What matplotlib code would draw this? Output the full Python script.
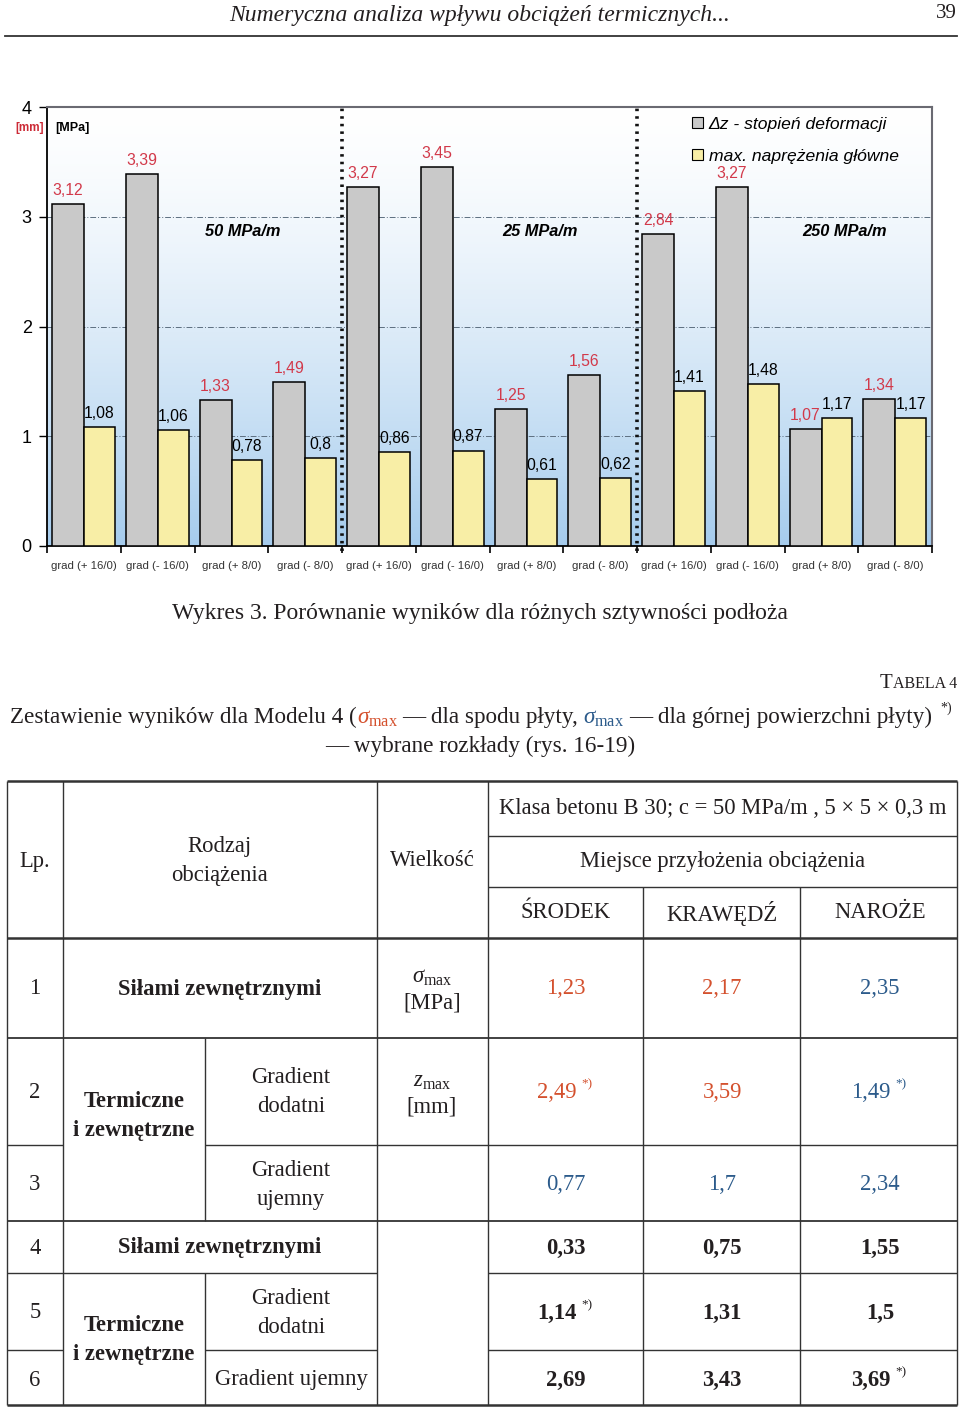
import numpy as np
import matplotlib
matplotlib.use('Agg')
import matplotlib.pyplot as plt
from matplotlib.patches import Patch
from matplotlib.offsetbox import TextArea, HPacker, AnnotationBbox

plt.rcParams['mathtext.fontset'] = 'custom'
plt.rcParams['mathtext.rm'] = 'Liberation Serif'
plt.rcParams['mathtext.it'] = 'Liberation Serif:italic'
plt.rcParams['mathtext.bf'] = 'Liberation Serif:bold'

# --- chart data ---
categories = ['grad (+ 16/0)', 'grad (- 16/0)', 'grad (+ 8/0)', 'grad (- 8/0)'] * 3
deformation = [3.12, 3.39, 1.33, 1.49, 3.27, 3.45, 1.25, 1.56, 2.84, 3.27, 1.07, 1.34]
stress = [1.08, 1.06, 0.78, 0.8, 0.86, 0.87, 0.61, 0.62, 1.41, 1.48, 1.17, 1.17]
stiffness = ['50 MPa/m', '25 MPa/m', '250 MPa/m']
series_names = ['Δz - stopień deformacji', 'max. naprężenia główne']
yticks = [0, 1, 2, 3, 4]

# --- table data ---
loc_heads = ['ŚRODEK', 'KRAWĘDŹ', 'NAROŻE']
lp = ['1', '2', '3', '4', '5', '6']
values = [['1,23', '2,17', '2,35'],
          ['2,49', '3,59', '1,49'],
          ['0,77', '1,7', '2,34'],
          ['0,33', '0,75', '1,55'],
          ['1,14', '1,31', '1,5'],
          ['2,69', '3,43', '3,69']]
footnotes = [(1, 0), (1, 2), (4, 0), (5, 2)]

RED = '#d4512e'
BLUE = '#2c5b8b'
INK = '#231f20'
SERIF = 'Liberation Serif'
SANS = 'Liberation Sans'
FS = 16.3

W, H = 960, 1409
fig = plt.figure(figsize=(W / 100, H / 100), dpi=100)

# page layer in pixel coordinates
page = fig.add_axes([0, 0, 1, 1])
page.set_xlim(0, W)
page.set_ylim(H, 0)
page.axis('off')

# running header
page.text(480, 16, 'Numeryczna analiza wpływu obciążeń termicznych...', family=SERIF,
          style='italic', fontsize=17, ha='center', va='center', color=INK)
page.text(957, 13, '39', family=SERIF, fontsize=15, ha='right', va='center', color=INK)
page.plot([5, 957], [36, 36], color='#333333', lw=1.3)

# ---- bar chart ----
ax = fig.add_axes([47 / W, 1 - 546 / H, 885 / W, 439 / H])
x = np.arange(len(categories))
ax.set_xlim(-0.5, len(categories) - 0.5)
ax.set_ylim(0, 4)

g = np.linspace(0, 1, 256) ** 1.4
top_c = np.array([1.0, 1.0, 1.0])
bot_c = np.array([0.65, 0.80, 0.93])
img = top_c[None, :] * (1 - g[:, None]) + bot_c[None, :] * g[:, None]
ax.imshow(img[:, None, :], extent=[-0.5, len(categories) - 0.5, 0, 4],
          aspect='auto', origin='upper', zorder=0)

for yv in yticks[1:-1]:
    ax.axhline(yv, color='#5d6f80', ls=(0, (6, 2, 1, 2)), lw=0.7, zorder=1)

ax.bar(x - 0.432, deformation, width=0.434, align='edge', color='#c9c9c9',
       edgecolor='black', lw=1.1, zorder=3)
ax.bar(x + 0.002, stress, width=0.42, align='edge', color='#f8eea6',
       edgecolor='black', lw=1.1, zorder=3)

for i in range(len(categories)):
    ax.annotate(str(deformation[i]).replace('.', ','), (x[i] - 0.215, deformation[i]),
                xytext=(0, 6.5), textcoords='offset points', ha='center', va='baseline',
                color='#d2394a', fontsize=11.3, family=SANS, zorder=5)
    ax.annotate(str(stress[i]).replace('.', ','), (x[i] + 0.21, stress[i]),
                xytext=(0, 6.5), textcoords='offset points', ha='center', va='baseline',
                color='black', fontsize=11.3, family=SANS, zorder=5)

for sep in [3.5, 7.5]:
    ax.axvline(sep, ymin=-0.012, ymax=1, color='#111111', ls=(0, (0.7, 1.4)), lw=2.6,
               zorder=4, clip_on=False)

for xs, name in zip([2.16, 6.18, 10.32], stiffness):
    ax.text(xs, 2.87, name, ha='center', va='center', fontsize=11.8, family=SANS,
            weight='bold', style='italic', zorder=5)

ax.set_xticks(x)
ax.set_xticklabels(categories, fontsize=8.2, family=SANS, color='#333333')
ax.set_xticks(np.arange(-0.5, len(categories), 1), minor=True)
ax.tick_params(axis='x', which='major', length=0, pad=11)
ax.tick_params(axis='x', which='minor', length=5, width=1.2, direction='out')
ax.set_yticks(yticks)
ax.set_yticklabels([str(t) for t in yticks], fontsize=13, family=SANS)
ax.tick_params(axis='y', length=6, width=1.0, direction='out', pad=5)
for s in ['top', 'right']:
    ax.spines[s].set_color('#6a6a72')
    ax.spines[s].set_linewidth(1.5)
for s in ['left', 'bottom']:
    ax.spines[s].set_color('black')
    ax.spines[s].set_linewidth(1.3)

handles = [Patch(facecolor='#c9c9c9', edgecolor='black', lw=0.8),
           Patch(facecolor='#f8eea6', edgecolor='black', lw=0.8)]
ax.legend(handles, series_names, loc='upper left', bbox_to_anchor=(0.729, 0.977),
          frameon=False, prop={'family': SANS, 'style': 'italic', 'size': 12.6},
          handlelength=0.6, handleheight=0.6, handletextpad=0.35, labelspacing=0.95,
          borderaxespad=0, borderpad=0)

# unit labels drawn on the chart layer so they sit above the plot background
ax.text(30, 128, '[mm]', color='#cc2a36', fontsize=8.5, weight='bold', family=SANS,
        ha='center', va='center', transform=page.transData, clip_on=False, zorder=6)
ax.text(72, 128, '[MPa]', color='black', fontsize=9, weight='bold', family=SANS,
        ha='center', va='center', transform=page.transData, clip_on=False, zorder=6)

# caption
page.text(480, 613, 'Wykres 3. Porównanie wyników dla różnych sztywności podłoża',
          family=SERIF, fontsize=17, ha='center', va='center', color=INK)

# table title
tab = HPacker(children=[TextArea('T', textprops=dict(family=SERIF, fontsize=15, color=INK)),
                        TextArea('ABELA 4', textprops=dict(family=SERIF, fontsize=11.5, color=INK))],
              align='baseline', pad=0, sep=0.5)
page.add_artist(AnnotationBbox(tab, (957, 684), xycoords='data', box_alignment=(1, 0.5),
                               frameon=False, pad=0))

TFS = 16.7
tp = dict(family=SERIF, fontsize=TFS, color=INK)
sig_red = dict(family=SERIF, fontsize=TFS, color=RED)
sig_blue = dict(family=SERIF, fontsize=TFS, color=BLUE)


def spacer(w):
    return TextArea(' ', textprops=dict(family=SERIF, fontsize=w))


title_parts = [TextArea('Zestawienie wyników dla Modelu 4 (', textprops=tp),
               TextArea(r'$\sigma_{\mathrm{max}}$', textprops=sig_red),
               spacer(14),
               TextArea('— dla spodu płyty,', textprops=tp),
               spacer(14),
               TextArea(r'$\sigma_{\mathrm{max}}$', textprops=sig_blue),
               spacer(14),
               TextArea('— dla górnej powierzchni płyty)', textprops=tp)]
line1 = HPacker(children=title_parts, align='baseline', pad=0, sep=0)
page.add_artist(AnnotationBbox(line1, (10, 718), xycoords='data', box_alignment=(0, 0.5),
                               frameon=False, pad=0))
page.text(940, 708, '*)', family=SERIF, fontsize=10, ha='left', va='center', color=INK)
page.text(480, 746, '— wybrane rozkłady (rys. 16-19)', family=SERIF, fontsize=TFS,
          ha='center', va='center', color=INK)

# ---- table grid ----
hlines = [(781, 7, 957, 1.8), (836, 488, 957, 1.0), (887, 488, 957, 1.0), (938, 7, 957, 1.8),
          (1038, 7, 957, 1.3), (1145, 7, 63, 1.0), (1145, 205, 957, 1.0), (1221, 7, 957, 1.3),
          (1273, 7, 377, 1.0), (1273, 488, 957, 1.0), (1350, 7, 63, 1.0), (1350, 205, 377, 1.0),
          (1350, 488, 957, 1.0), (1405, 7, 957, 1.8)]
vlines = [(7, 781, 1405), (63, 781, 1405), (205, 1038, 1221), (205, 1273, 1405),
          (377, 781, 1405), (488, 781, 1405), (643, 887, 1405), (800, 887, 1405),
          (957, 781, 1405)]
for yy, x0, x1, lw in hlines:
    page.plot([x0, x1], [yy, yy], color='#333333', lw=lw, solid_capstyle='butt')
for xx, y0, y1 in vlines:
    page.plot([xx, xx], [y0, y1], color='#333333', lw=1.0, solid_capstyle='butt')

LS = 1.45
cell = dict(family=SERIF, fontsize=FS, color=INK, ha='center', va='center')
page.text(35, 861, 'Lp.', **cell)
page.text(220, 861, 'Rodzaj\nobciążenia', linespacing=LS, **cell)
page.text(432, 861, 'Wielkość', **cell)
page.text(723, 809, 'Klasa betonu B 30; c = 50 MPa/m , 5 × 5 × 0,3 m', **cell)
page.text(723, 862, 'Miejsce przyłożenia obciążenia', **cell)
for cx, head in zip([566, 722, 880], loc_heads):
    page.text(cx, 913, head, **cell)

row_y = [989, 1092, 1184, 1248, 1313, 1380]
row_colors = [[RED, RED, BLUE], [RED, RED, BLUE], [BLUE, BLUE, BLUE],
              [INK, INK, INK], [INK, INK, INK], [INK, INK, INK]]
row_weight = ['normal', 'normal', 'normal', 'bold', 'bold', 'bold']
col_x = [566, 722, 880]
for r, (num, yy) in enumerate(zip(lp, row_y)):
    page.text(35, yy, num, **cell)
    for c in range(3):
        txt = values[r][c]
        cxp = col_x[c] - (9 if (r, c) in footnotes else 0)
        t = dict(cell)
        t.update(color=row_colors[r][c], weight=row_weight[r])
        page.text(cxp, yy, txt, **t)
        if (r, c) in footnotes:
            page.text(cxp + 24, yy - 8, '*)', family=SERIF, fontsize=9.5,
                      color=row_colors[r][c], ha='left', va='center')

bold = dict(cell)
bold.update(weight='bold')
page.text(220, 989, 'Siłami zewnętrznymi', **bold)
page.text(220, 1248, 'Siłami zewnętrznymi', **bold)
page.text(134, 1116, 'Termiczne\ni zewnętrzne', linespacing=LS, **bold)
page.text(134, 1340, 'Termiczne\ni zewnętrzne', linespacing=LS, **bold)
page.text(291, 1092, 'Gradient\ndodatni', linespacing=LS, **cell)
page.text(291, 1185, 'Gradient\nujemny', linespacing=LS, **cell)
page.text(291, 1313, 'Gradient\ndodatni', linespacing=LS, **cell)
page.text(291, 1380, 'Gradient ujemny', **cell)

page.text(432, 978, r'$\sigma_{\mathrm{max}}$', **cell)
page.text(432, 1003, '[MPa]', **cell)
page.text(432, 1081, r'$z_{\mathrm{max}}$', **cell)
page.text(432, 1107, '[mm]', **cell)

fig.savefig('out.png', dpi=100)
